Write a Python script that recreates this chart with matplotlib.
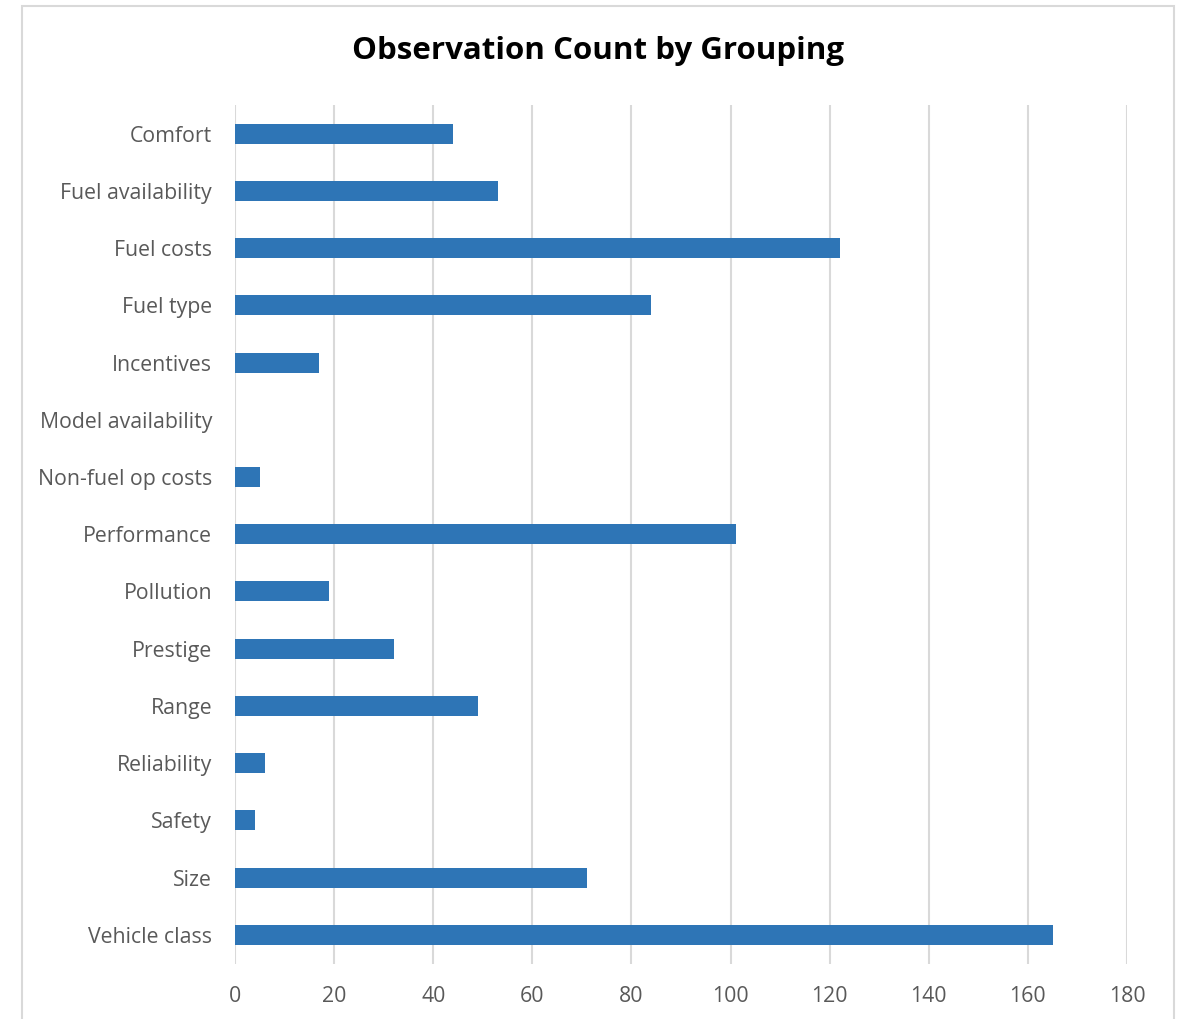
import matplotlib.pyplot as plt
from matplotlib.patches import Rectangle

categories = ['Comfort', 'Fuel availability', 'Fuel costs', 'Fuel type', 'Incentives',
              'Model availability', 'Non-fuel op costs', 'Performance', 'Pollution',
              'Prestige', 'Range', 'Reliability', 'Safety', 'Size', 'Vehicle class']
counts = [44, 53, 122, 84, 17, 0, 5, 101, 19, 32, 49, 6, 4, 71, 165]
x_ticks = [0, 20, 40, 60, 80, 100, 120, 140, 160, 180]

plt.rcParams['font.family'] = ['Open Sans', 'DejaVu Sans']

fig = plt.figure(figsize=(11.79, 10.19), dpi=100)
fig.patch.set_facecolor('white')
ax = fig.add_axes([235 / 1179, 1 - 963.5 / 1019, (1127 - 235) / 1179, (963.5 - 105) / 1019])

ypos = list(range(len(categories)))
ax.barh(ypos, counts, height=0.35, color='#2E75B6', zorder=3)
ax.set_ylim(len(categories) - 0.5, -0.5)
ax.set_yticks(ypos)
ax.set_yticklabels(categories, fontsize=15.3, color='#595959')
ax.set_xlim(0, 180)
ax.set_xticks(x_ticks)
ax.set_xticklabels([str(t) for t in x_ticks], fontsize=15.3, color='#595959')
ax.tick_params(length=0, pad=16.5, axis='y')
ax.tick_params(length=0, pad=16, axis='x')
ax.grid(axis='x', color='#d9d9d9', linewidth=1.5, zorder=0)
for s in ax.spines.values():
    s.set_visible(False)

fig.text(598 / 1179, 1 - 51 / 1019, 'Observation Count by Grouping', ha='center', va='center',
         fontsize=22.5, fontweight='bold', color='black')

# chart frame
fig.patches.append(Rectangle((22 / 1179, -0.05), (1174 - 22) / 1179, 1.05 - 6 / 1019,
                             transform=fig.transFigure, fill=False,
                             edgecolor='#d9d9d9', linewidth=1.5))

fig.savefig('out.png', dpi=100)
